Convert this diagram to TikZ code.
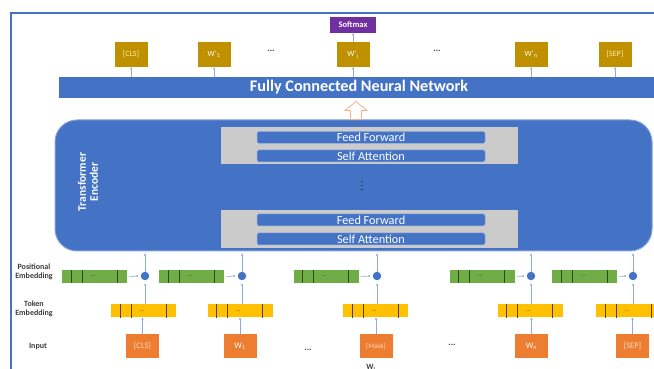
\documentclass[tikz,border=0pt]{standalone}
\usepackage{fontspec}
\setmainfont{Carlito}
\usetikzlibrary{positioning,arrows.meta,calc}

\definecolor{encblue}{HTML}{4472C4}
\definecolor{lineblue}{HTML}{8FAADC}
\definecolor{outgold}{HTML}{BF9000}
\definecolor{outlight}{HTML}{FFE9A8}
\definecolor{smpurple}{HTML}{7030A0}
\definecolor{posgreen}{HTML}{70AD47}
\definecolor{posdark}{HTML}{2B4A18}
\definecolor{tokyellow}{HTML}{FFC000}
\definecolor{tokdark}{HTML}{5A4300}
\definecolor{inorange}{HTML}{ED7D31}
\definecolor{inlight}{HTML}{FCD9C2}
\definecolor{layergray}{HTML}{CBCBCB}
\definecolor{lbltext}{HTML}{3B3B3B}
\definecolor{hollowedge}{HTML}{F4B183}

\tikzset{
	frameline/.style={draw=encblue, line width=1.6pt},
	fcbar/.style={fill=encblue, minimum width=600, minimum height=21, inner sep=0pt,
		text=white, font=\bfseries\fontsize{16.2}{18}\selectfont},
	encoder/.style={fill=encblue, draw=encblue!65!white, line width=1pt,
		rounded corners=22pt, minimum width=597, minimum height=131},
	encname/.style={rotate=90, text=white, align=center,
		font=\bfseries\fontsize{11.5}{12}\selectfont},
	layerbg/.style={fill=layergray, minimum width=297, inner sep=0pt},
	sublayer/.style={fill=encblue, draw=encblue!55!white, line width=0.5pt,
		rounded corners=1.5pt, minimum width=228, minimum height=12, inner sep=0pt,
		text=white, font=\fontsize{12.3}{12}\selectfont},
	rowlabel/.style={text=lbltext, align=center, font=\bfseries\fontsize{8}{9.5}\selectfont},
	posbar/.style={fill=posgreen, minimum width=65, minimum height=13, inner sep=0pt},
	tokbar/.style={fill=tokyellow, minimum width=65, minimum height=13, inner sep=0pt},
	sumnode/.style={circle, fill=encblue, minimum size=8.5, inner sep=0pt},
	inbox/.style={fill=inorange, minimum width=33, minimum height=24, inner sep=0pt,
		text=white, font=\fontsize{8.5}{9}\selectfont},
	outbox/.style={fill=outgold, minimum width=33, minimum height=25, inner sep=0pt,
		text=white, font=\fontsize{8}{9}\selectfont},
	smbox/.style={fill=smpurple, minimum width=46, minimum height=16, inner sep=0pt,
		text=white, font=\bfseries\fontsize{8.5}{10}\selectfont},
	dotsmark/.style={text=lbltext, font=\bfseries\fontsize{9}{9}\selectfont},
	bardots/.style={inner sep=0pt, font=\fontsize{6}{7}\selectfont},
	tinyarrow/.style={draw=lineblue, line width=0.6pt, -{Stealth[length=2.4pt,width=2.4pt]}},
	hollowarrow/.style={draw=hollowedge, fill=white, line width=0.8pt},
}

\begin{document}
\begin{tikzpicture}[x=1pt, y=1pt]
	\newcommand\embstripes[2]{%
		\foreach \dx in {9.5, 20.5, 55.5}
			\draw[#2, line width=1.3pt] ([xshift=\dx]#1.south west) -- ([xshift=\dx]#1.north west);
		\node[bardots, text=#2] (#1dots) at ([xshift=31]#1.west) {...};
	}

	\useasboundingbox (0, 0) rectangle (654, 369);
	\clip (0, 0) rectangle (654, 369);

	% 外框
	\draw[frameline] (11, -2) -- (11, 356) -- (660, 356);

	% 输出层与 Softmax
	\node[smbox] (softmax) at (353, 344) {Softmax};
	\node[outbox, text=outlight] (o1) at (131, 314.5) {[CLS]};
	\node[outbox] (o2) at (214, 314.5) {W'\textsubscript{1}};
	\node[dotsmark] (odots1) at (271, 318) {...};
	\node[outbox] (o3) at (353, 314.5) {W'\textsubscript{i}};
	\node[dotsmark] (odots2) at (437, 318) {...};
	\node[outbox] (o4) at (531, 314.5) {W'\textsubscript{n}};
	\node[outbox, text=outlight] (o5) at (615, 314.5) {[SEP]};
	\draw[tinyarrow] (o3.north) -- (softmax.south);

	% 全连接层
	\node[fcbar] (fc) at (359, 281.5) {Fully Connected Neural Network};
	\draw[tinyarrow] (fc.north -| o1) -- (o1.south);
	\draw[tinyarrow] (fc.north -| o2) -- (o2.south);
	\draw[tinyarrow] (fc.north -| o3) -- (o3.south);
	\draw[tinyarrow] (fc.north -| o4) -- (o4.south);
	\draw[tinyarrow] (fc.north -| o5) -- (o5.south);

	% Transformer 编码器
	\node[encoder] (enc) at (353.5, 183.5) {};
	\node[encname] (encname) at (88, 187) {Transformer\\Encoder};
	\node[layerbg, minimum height=37] (layertop) at (369.5, 223.5) {};
	\node[sublayer] (fftop) at (371, 231.5) {Feed Forward};
	\node[sublayer] (satop) at (371, 213) {Self Attention};
	\node[font=\fontsize{9}{9}\selectfont] (layerdots) at (362, 186) {\vdots};
	\node[layerbg, minimum height=38] (layerbot) at (369.5, 140) {};
	\node[sublayer] (ffbot) at (371, 149) {Feed Forward};
	\node[sublayer] (sabot) at (371, 130) {Self Attention};

	% 空心箭头
	\coordinate (hb) at (enc.north -| 356, 0);
	\draw[hollowarrow] ($(hb) + (-5.5, 0)$) -- ++(0, 9) -- ++(-5.5, 0)
		-- ($(hb) + (0, 18)$) -- ($(hb) + (11, 9)$) -- ++(-5.5, 0) -- ++(0, -9) -- cycle;

	% 左侧标签
	\node[rowlabel] (poslbl) at (34, 97) {Positional\\Embedding};
	\node[rowlabel] (toklbl) at (34, 60) {Token\\Embedding};
	\node[rowlabel] (inlbl) at (38, 22) {Input};

	% 位置编码与求和
	\node[posbar] (pos1) at (94.5, 92.5) {};
	\node[posbar] (pos2) at (191.5, 92.5) {};
	\node[posbar] (pos3) at (326, 92.5) {};
	\node[posbar] (pos4) at (482, 92.5) {};
	\node[posbar] (pos5) at (584.5, 92.5) {};
	\embstripes{pos1}{posdark}
	\embstripes{pos2}{posdark}
	\embstripes{pos3}{posdark}
	\embstripes{pos4}{posdark}
	\embstripes{pos5}{posdark}

	\node[sumnode] (s1) at (145, 93) {};
	\node[sumnode] (s2) at (242, 93) {};
	\node[sumnode] (s3) at (377, 93) {};
	\node[sumnode] (s4) at (531, 93) {};
	\node[sumnode] (s5) at (633, 93) {};

	% 词向量
	\node[tokbar] (tok1) at (143.5, 58) {};
	\node[tokbar] (tok2) at (240, 58) {};
	\node[tokbar] (tok3) at (375.5, 58) {};
	\node[tokbar] (tok4) at (530, 58) {};
	\node[tokbar] (tok5) at (628.5, 58) {};
	\embstripes{tok1}{tokdark}
	\embstripes{tok2}{tokdark}
	\embstripes{tok3}{tokdark}
	\embstripes{tok4}{tokdark}
	\embstripes{tok5}{tokdark}

	% 输入
	\node[inbox, text=inlight] (in1) at (142.5, 23) {[CLS]};
	\node[inbox] (in2) at (240, 23) {W\textsubscript{1}};
	\node[dotsmark] (idots1) at (308, 19) {...};
	\node[inbox, text=inlight, font=\fontsize{7}{8}\selectfont] (in3) at (376, 23) {[Mask]};
	\node[dotsmark] (idots2) at (452, 24) {...};
	\node[inbox] (in4) at (531.5, 23) {W\textsubscript{n}};
	\node[inbox, text=inlight] (in5) at (632.5, 23) {[SEP]};
	\node[anchor=north, inner sep=0pt, text=lbltext, font=\bfseries\fontsize{8}{9}\selectfont]
		(wicut) at (371, 4.5) {W\textsubscript{i}};

	% 连线
	\draw[tinyarrow] (in1.north) -- (in1.north |- tok1.south);
	\draw[tinyarrow] (in2.north) -- (in2.north |- tok2.south);
	\draw[tinyarrow] (in3.north) -- (in3.north |- tok3.south);
	\draw[tinyarrow] (in4.north) -- (in4.north |- tok4.south);
	\draw[tinyarrow] (in5.north) -- (in5.north |- tok5.south);

	\draw[tinyarrow, shorten >=3pt] (s1 |- tok1.north) -- (s1.south);
	\draw[tinyarrow, shorten >=3pt] (s2 |- tok2.north) -- (s2.south);
	\draw[tinyarrow, shorten >=3pt] (s3 |- tok3.north) -- (s3.south);
	\draw[tinyarrow, shorten >=3pt] (s4 |- tok4.north) -- (s4.south);
	\draw[tinyarrow, shorten >=3pt] (s5 |- tok5.north) -- (s5.south);

	\draw[tinyarrow, shorten <=2pt, shorten >=2pt] (pos1.east) -- (s1.west);
	\draw[tinyarrow, shorten <=2pt, shorten >=2pt] (pos2.east) -- (s2.west);
	\draw[tinyarrow, shorten <=2pt, shorten >=2pt] (pos3.east) -- (s3.west);
	\draw[tinyarrow, shorten <=2pt, shorten >=2pt] (pos4.east) -- (s4.west);
	\draw[tinyarrow, shorten <=2pt, shorten >=2pt] (pos5.east) -- (s5.west);

	\draw[tinyarrow, shorten >=2pt] (s1.north) -- (s1 |- enc.south);
	\draw[tinyarrow, shorten >=2pt] (s2.north) -- (s2 |- enc.south);
	\draw[tinyarrow, shorten >=2pt] (s3.north) -- (s3 |- enc.south);
	\draw[tinyarrow, shorten >=2pt] (s4.north) -- (s4 |- enc.south);
	\draw[tinyarrow, shorten >=2pt] (s5.north) -- (s5 |- enc.south);
\end{tikzpicture}
\end{document}
